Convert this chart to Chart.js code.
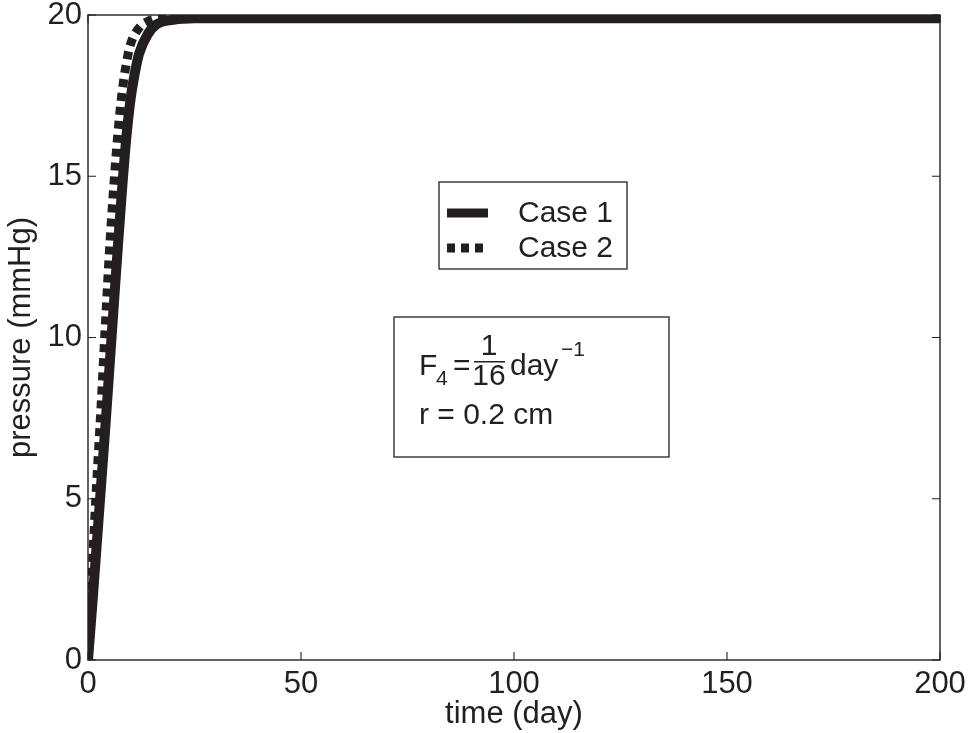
<!DOCTYPE html>
<html>
<head>
<meta charset="utf-8">
<script src="https://cdn.jsdelivr.net/npm/chart.js@4/dist/chart.umd.min.js"></script>
<style>
html,body{margin:0;padding:0;background:#fff;}
#wrap{width:969px;height:733px;position:relative;}
</style>
</head>
<body>
<div id="wrap"><canvas id="c" width="969" height="733"></canvas></div>
<script>
// ---- data ----
const seriesLabels = ['Case 1', 'Case 2'];
const case1Days = [0, 1, 2, 3, 4, 5, 6, 7, 8, 9, 10, 11, 12, 14, 16, 20, 25, 30, 50, 100, 150, 200];
const case1Pressure = [0, 1.7, 3.5, 5.3, 7.1, 9.0, 10.9, 12.8, 14.6, 16.2, 17.4, 18.2, 18.8, 19.4, 19.7, 19.85, 19.9, 19.9, 19.9, 19.9, 19.9, 19.9];
const case2Days = [0, 1, 2, 3, 4, 5, 6, 7, 8, 9, 10, 12, 14, 17, 20, 30, 50, 100, 150, 200];
const case2Pressure = [0, 2.8, 5.4, 7.7, 10.2, 12.6, 14.6, 16.3, 17.6, 18.5, 19.1, 19.6, 19.8, 19.9, 19.9, 19.9, 19.9, 19.9, 19.9, 19.9];
const xTicks = [0, 50, 100, 150, 200];
const yTicks = [0, 5, 10, 15, 20];
const xTitle = 'time (day)';
const yTitle = 'pressure (mmHg)';
const annotationLine2 = 'r = 0.2 cm';

const INK = '#231f20';
const FONT = '"Liberation Sans", Arial, Helvetica, sans-serif';
const FS = 31;
const LFS = 30;

function pts(xs, ys) { return xs.map((x, i) => ({x: x, y: ys[i]})); }

const frame = {
  id: 'frame',
  afterDraw(chart) {
    const ctx = chart.ctx;
    const a = chart.chartArea;
    const xs = chart.scales.x, ys = chart.scales.y;
    ctx.save();
    ctx.strokeStyle = INK;
    ctx.lineWidth = 1.4;
    ctx.strokeRect(a.left, a.top, a.right - a.left, a.bottom - a.top);
    const TL = 8;
    ctx.lineWidth = 1.1;
    ctx.beginPath();
    xTicks.forEach(v => {
      const p = xs.getPixelForValue(v);
      ctx.moveTo(p, a.bottom); ctx.lineTo(p, a.bottom - TL);
      ctx.moveTo(p, a.top); ctx.lineTo(p, a.top + TL);
    });
    yTicks.forEach(v => {
      const p = ys.getPixelForValue(v);
      ctx.moveTo(a.left, p); ctx.lineTo(a.left + TL, p);
      ctx.moveTo(a.right, p); ctx.lineTo(a.right - TL, p);
    });
    ctx.stroke();

    // legend box
    const ds = chart.data.datasets;
    ctx.fillStyle = '#fff';
    ctx.fillRect(439, 182, 188, 87);
    ctx.lineWidth = 1.3;
    ctx.strokeStyle = INK;
    ctx.strokeRect(439, 182, 188, 87);
    ctx.font = LFS + 'px ' + FONT;
    ctx.textBaseline = 'middle';
    ctx.textAlign = 'left';
    ds.forEach((d, i) => {
      const y = 213 + i * 35;
      ctx.save();
      ctx.strokeStyle = d.borderColor;
      ctx.lineWidth = 9;
      ctx.lineCap = 'butt';
      ctx.setLineDash(d.borderDash || []);
      ctx.beginPath();
      ctx.moveTo(447, y); ctx.lineTo(d.borderDash ? 485 : 488, y);
      ctx.stroke();
      ctx.restore();
      ctx.fillStyle = INK;
      ctx.fillText(d.label, 518, y + 1);
    });

    // annotation box
    ctx.fillStyle = '#fff';
    ctx.fillRect(394, 317, 275, 140);
    ctx.strokeRect(394, 317, 275, 140);
    ctx.fillStyle = INK;
    ctx.textBaseline = 'alphabetic';
    ctx.font = LFS + 'px ' + FONT;
    ctx.fillText('F', 419, 375);
    ctx.font = '21px ' + FONT;
    ctx.fillText('4', 436, 385);
    ctx.font = LFS + 'px ' + FONT;
    ctx.fillText('=', 453, 375);
    ctx.textAlign = 'center';
    ctx.fillText('1', 489, 355);
    ctx.fillText('16', 489, 385);
    ctx.fillRect(474, 361, 31, 1.5);
    ctx.textAlign = 'left';
    ctx.fillText('day', 510, 375);
    ctx.font = '21px ' + FONT;
    ctx.fillText('\u22121', 561, 356);
    ctx.font = LFS + 'px ' + FONT;
    ctx.fillText(annotationLine2, 419, 424);
    ctx.restore();
  }
};

new Chart(document.getElementById('c'), {
  type: 'line',
  data: {
    datasets: [
      {
        label: seriesLabels[0],
        data: pts(case1Days, case1Pressure),
        borderColor: INK,
        borderWidth: 10,
        pointRadius: 0,
        cubicInterpolationMode: 'monotone',
        fill: false
      },
      {
        label: seriesLabels[1],
        data: pts(case2Days, case2Pressure),
        borderColor: INK,
        borderWidth: 9,
        borderDash: [8, 6],
        borderCapStyle: 'butt',
        pointRadius: 0,
        cubicInterpolationMode: 'monotone',
        fill: false
      }
    ]
  },
  options: {
    responsive: false,
    animation: false,
    devicePixelRatio: 1,
    layout: {padding: {top: 15, right: 29, left: 0, bottom: 0}},
    plugins: {legend: {display: false}, tooltip: {enabled: false}},
    scales: {
      x: {
        type: 'linear', min: 0, max: 200,
        afterBuildTicks: s => { s.ticks = xTicks.map(v => ({value: v})); },
        afterFit: s => { s.height = 73; s.paddingLeft = 0; s.paddingRight = 0; },
        grid: {display: false, drawTicks: false},
        border: {display: false},
        ticks: {color: INK, font: {family: FONT, size: FS}, padding: 6, maxRotation: 0, autoSkip: false},
        title: {display: true, text: xTitle, color: INK, font: {family: FONT, size: FS}, padding: {top: 0, bottom: 0}}
      },
      y: {
        type: 'linear', min: 0, max: 20,
        afterBuildTicks: s => { s.ticks = yTicks.map(v => ({value: v})); },
        afterFit: s => { s.width = 88; s.paddingTop = 0; s.paddingBottom = 0; },
        grid: {display: false, drawTicks: false},
        border: {display: false},
        ticks: {color: INK, font: {family: FONT, size: FS}, padding: 6, autoSkip: false},
        title: {display: true, text: yTitle, color: INK, font: {family: FONT, size: FS}, padding: {top: 3, bottom: 0}}
      }
    }
  },
  plugins: [frame]
});
</script>
</body>
</html>
